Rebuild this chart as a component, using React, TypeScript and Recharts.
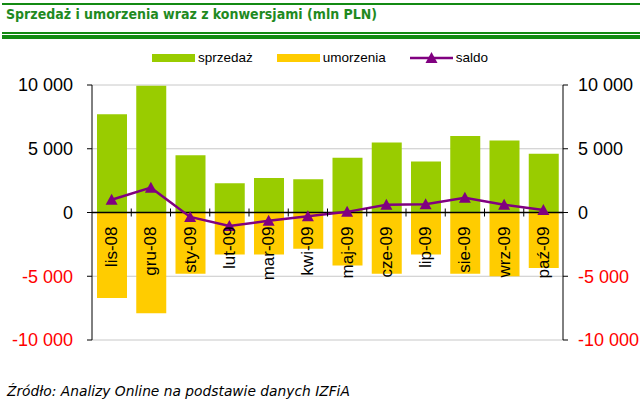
import React from 'react';
import {
  ComposedChart,
  CartesianGrid,
  XAxis,
  YAxis,
  Bar,
  Line,
  Legend,
  ReferenceLine,
} from 'recharts';

const months = ['lis-08', 'gru-08', 'sty-09', 'lut-09', 'mar-09', 'kwi-09', 'maj-09', 'cze-09', 'lip-09', 'sie-09', 'wrz-09', 'paź-09'];
const sprzedaz = [7700, 9950, 4500, 2300, 2700, 2600, 4300, 5500, 4000, 6000, 5650, 4600];
const umorzenia = [-6700, -7900, -4800, -3300, -3300, -2850, -4150, -4800, -3300, -4800, -5000, -4350];
const saldo = [1000, 1950, -350, -1050, -650, -300, 50, 600, 650, 1150, 600, 200];
const yTicks = [-10000, -5000, 0, 5000, 10000];
const seriesOrder = ['sprzedaż', 'umorzenia', 'saldo'];

const data = months.map((m, i) => ({
  m,
  'sprzedaż': sprzedaz[i],
  umorzenia: umorzenia[i],
  saldo: saldo[i],
}));

const GREEN = '#99cc00';
const YELLOW = '#ffcc00';
const PURPLE = '#800080';
const FONT = 'Arial, "Liberation Sans", sans-serif';

// plot area
const PLOT_TOP = 85;
const PLOT_H = 255;
const PLOT_W = 471;
const ZERO_Y = PLOT_TOP + PLOT_H / 2;
const BAND = PLOT_W / months.length;

const fmt = (v: number) => {
  const s = String(Math.abs(v)).replace(/\B(?=(\d{3})+(?!\d))/g, ' ');
  return v < 0 ? '-' + s : s;
};

const YTick = (props: any) => {
  const { x, y, payload, textAnchor } = props;
  return (
    <text x={x} y={y} dy="0.36em" textAnchor={textAnchor} fontSize={18} fontFamily={FONT}
      fill={payload.value < 0 ? '#ff0000' : '#000000'}>
      {fmt(payload.value)}
    </text>
  );
};

const XTick = (props: any) => {
  const { x, payload, index } = props;
  const ty = ZERO_Y + 14;
  return (
    <g>
      {index > 0 && (
        <line x1={x - BAND / 2} x2={x - BAND / 2} y1={ZERO_Y - 4} y2={ZERO_Y + 4} stroke="#000" strokeWidth={1} />
      )}
      <text x={x} y={ty} transform={`rotate(-90 ${x} ${ty})`} textAnchor="end" dominantBaseline="central"
        fontSize={17} fontFamily={FONT} fill="#000">
        {payload.value}
      </text>
    </g>
  );
};

const Triangle = (props: any) => {
  const { cx, cy } = props;
  if (cx == null || cy == null) return null;
  return <path d={`M${cx},${cy - 6} L${cx + 6},${cy + 5} L${cx - 6},${cy + 5} Z`} fill={PURPLE} />;
};

const LegendContent = (props: any) => {
  const items = [...(props.payload || [])].sort(
    (a: any, b: any) => seriesOrder.indexOf(a.value) - seriesOrder.indexOf(b.value),
  );
  return (
    <div style={{ display: 'flex', justifyContent: 'center', alignItems: 'center', fontFamily: FONT, fontSize: 13.5 }}>
      {items.map((p: any) => (
        <div key={p.value} style={{ display: 'flex', alignItems: 'center', margin: '0 12px' }}>
          {p.type === 'line' ? (
            <svg width={43} height={14} style={{ marginRight: 3 }}>
              <line x1={0} x2={43} y1={7} y2={7} stroke={PURPLE} strokeWidth={2.5} />
              <path d="M21.5,1 L27.5,12 L15.5,12 Z" fill={PURPLE} />
            </svg>
          ) : (
            <div style={{ width: 43, height: 8, background: p.color, marginRight: 3 }} />
          )}
          <span style={{ color: '#000' }}>{p.value}</span>
        </div>
      ))}
    </div>
  );
};

export default function App() {
  return (
    <div style={{ position: 'absolute', left: 0, top: 0, width: 640, height: 403, background: '#fff', overflow: 'hidden' }}>
      <div style={{ position: 'absolute', left: 2, right: 0, top: 3, height: 2, background: '#138a13' }} />
      <div style={{ position: 'absolute', left: 6, top: 6, fontFamily: '"DejaVu Sans Condensed", "DejaVu Sans", sans-serif', fontSize: 14, fontWeight: 'bold', color: '#1f8a1f', whiteSpace: 'nowrap' }}>
        Sprzedaż i umorzenia wraz z konwersjami (mln PLN)
      </div>
      <div style={{ position: 'absolute', left: 2, right: 0, top: 32, height: 2, background: '#138a13' }} />
      <div style={{ position: 'absolute', left: 2, right: 0, top: 35, height: 4, background: '#138a13' }} />
      <div style={{ position: 'absolute', left: 0, top: 0 }}>
        <ComposedChart width={640} height={403} data={data} stackOffset="sign"
          margin={{ top: PLOT_TOP, right: 12, bottom: 33, left: 12 }}>
          <CartesianGrid yAxisId="l" vertical={false} stroke="#c8c8c8" />
          <YAxis yAxisId="l" orientation="left" width={80} domain={[-10000, 10000]} ticks={yTicks}
            allowDataOverflow stroke="#000" tickSize={5} tickMargin={14} tick={<YTick />} interval={0} />
          <YAxis yAxisId="r" orientation="right" width={65} domain={[-10000, 10000]} ticks={yTicks}
            allowDataOverflow stroke="#000" tickSize={5} tickMargin={10} tick={<YTick />} interval={0} />
          <Legend verticalAlign="middle" align="center" layout="horizontal" content={<LegendContent />}
            wrapperStyle={{ top: 50, left: 0, width: 640 }} />
          <Bar yAxisId="l" dataKey="sprzedaż" stackId="a" fill={GREEN} barSize={30} isAnimationActive={false} />
          <Bar yAxisId="l" dataKey="umorzenia" stackId="a" fill={YELLOW} barSize={30} isAnimationActive={false} />
          <ReferenceLine yAxisId="l" y={0} stroke="#000" strokeWidth={1.5} />
          <XAxis dataKey="m" height={30} axisLine={false} tickLine={false} tick={<XTick />} interval={0} />
          <Line yAxisId="l" dataKey="saldo" type="linear" stroke={PURPLE} strokeWidth={2.5}
            dot={<Triangle />} activeDot={false} legendType="line" isAnimationActive={false} />
        </ComposedChart>
      </div>
      <div style={{ position: 'absolute', left: 7, top: 383, fontFamily: '"DejaVu Sans", sans-serif', fontSize: 13.8, fontStyle: 'italic', color: '#000', whiteSpace: 'nowrap' }}>
        Źródło: Analizy Online na podstawie danych IZFiA
      </div>
    </div>
  );
}
